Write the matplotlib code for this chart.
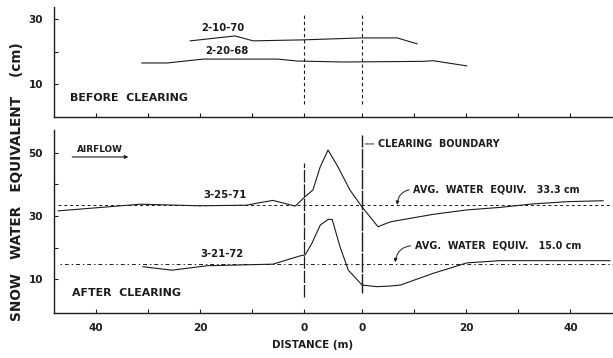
import matplotlib
matplotlib.use("Agg")
import matplotlib.pyplot as plt

# ---- data (distance in m; left clearing boundary at 0, clearing width CLEAR_W) ----
CLEAR_W = 11.2

x_701 = [-21.9, -13.3, -9.8, -0.2, 11.0, 17.9, 21.7]
y_701 = [23.4, 24.9, 23.4, 23.7, 24.3, 24.3, 22.5]

x_682 = [-31.2, -26.3, -19.4, -5.2, -1.3, 7.5, 22.9, 24.8, 31.3]
y_682 = [16.6, 16.6, 17.8, 17.8, 17.2, 16.9, 17.1, 17.3, 15.7]

x_713 = [-47.3, -31.5, -20.0, -11.0, -8.5, -6.0, -1.7, 0.2, 1.7, 3.1, 4.6,
         6.5, 8.8, 11.15, 14.2, 16.5, 18.5, 24.8, 31.3, 37.7, 44.0, 50.6, 57.5]
y_713 = [31.6, 33.7, 33.2, 33.4, 34.2, 34.9, 33.1, 36.1, 38.2, 45.5, 50.8,
         45.5, 38.2, 32.8, 26.6, 28.1, 28.7, 30.5, 31.9, 32.7, 33.8, 34.5, 34.8]

x_723 = [-31.0, -25.4, -18.7, -6.0, -0.8, 0.2, 1.5, 3.1, 4.6, 5.4, 6.9,
         8.5, 11.15, 14.0, 16.5, 18.5, 24.8, 31.3, 37.7, 58.8]
y_723 = [14.0, 12.9, 14.3, 14.8, 17.4, 17.7, 21.4, 27.1, 28.9, 28.9, 20.3,
         12.9, 8.2, 7.7, 7.9, 8.2, 11.9, 15.2, 15.9, 15.9]

avg_713 = 33.3
avg_723 = 15.0

tick_pos = [-40, -30, -20, -10, 0, CLEAR_W, CLEAR_W + 10, CLEAR_W + 20,
            CLEAR_W + 30, CLEAR_W + 40]
tick_lab = ["40", "", "20", "", "0", "0", "", "20", "", "40"]

top_yticks = [10, 20, 30]
top_ylabels = ["10", "", "30"]
bot_yticks = [10, 20, 30, 40, 50]
bot_ylabels = ["10", "", "30", "", "50"]

# ---- style ----
INK = "#1c1c1c"
FONT = dict(family="DejaVu Sans", weight="bold", color=INK)
plt.rcParams["font.family"] = "DejaVu Sans"

fig = plt.figure(figsize=(6.13, 3.58), dpi=100)
ax1 = fig.add_axes([54 / 613, 1 - 117 / 358, 1 - 54 / 613, 110 / 358])
ax2 = fig.add_axes([54 / 613, 1 - 313 / 358, 1 - 54 / 613, 183 / 358])

XL = (-48.1, CLEAR_W + 48.2)
for ax in (ax1, ax2):
    ax.set_xlim(*XL)
    for s in ("top", "right"):
        ax.spines[s].set_visible(False)
    for s in ("left", "bottom"):
        ax.spines[s].set_color(INK)
        ax.spines[s].set_linewidth(1.0)
    ax.set_xticks(tick_pos)
    ax.tick_params(direction="in", length=3, width=0.8, color=INK,
                   labelsize=7.5, labelcolor=INK)
    ax.tick_params(axis="y", pad=8)
    ax.tick_params(axis="x", pad=7)

ax1.set_ylim(0, 33.8)
ax1.set_yticks(top_yticks)
ax1.set_yticklabels(top_ylabels, fontweight="bold")
ax1.set_xticklabels([])

ax2.set_ylim(-0.6, 57.1)
ax2.set_yticks(bot_yticks)
ax2.set_yticklabels(bot_ylabels, fontweight="bold")
ax2.set_xticklabels(tick_lab, fontweight="bold")

lw = 0.8
# top panel
ax1.plot(x_701, y_701, color=INK, lw=lw)
ax1.plot(x_682, y_682, color=INK, lw=lw)
for xb in (0, CLEAR_W):
    ax1.plot([xb, xb], [4.0, 31.2], color=INK, lw=0.8, linestyle=(0, (3, 2.5)))

ax1.text(-15.6, 27.2, "2-10-70", ha="center", va="center", fontsize=7.3, **FONT)
ax1.text(-14.8, 20.2, "2-20-68", ha="center", va="center", fontsize=7.3, **FONT)
ax1.text(-45.0, 5.8, "BEFORE  CLEARING", ha="left", va="center", fontsize=7.9, **FONT)

# bottom panel
ax2.plot(x_713, y_713, color=INK, lw=lw)
ax2.plot(x_723, y_723, color=INK, lw=lw)
ax2.axhline(avg_713, xmin=(-47.3 - XL[0]) / (XL[1] - XL[0]), color=INK, lw=0.7,
            linestyle=(0, (3, 3)))
ax2.axhline(avg_723, xmin=(-47.0 - XL[0]) / (XL[1] - XL[0]), color=INK, lw=0.7,
            linestyle=(0, (1.5, 3, 4, 3)))
ax2.plot([0, 0], [4.4, 46.7], color=INK, lw=0.9, linestyle=(0, (10, 1.5)))
ax2.plot([CLEAR_W, CLEAR_W], [5.7, 55.5], color=INK, lw=1.0, linestyle=(0, (14, 1)))

ax2.text(-15.2, 36.6, "3-25-71", ha="center", va="center", fontsize=7.3, **FONT)
ax2.text(-15.8, 17.9, "3-21-72", ha="center", va="center", fontsize=7.3, **FONT)
ax2.text(-44.6, 5.7, "AFTER  CLEARING", ha="left", va="center", fontsize=7.9, **FONT)

ax2.text(-43.7, 50.8, "AIRFLOW", ha="left", va="center", fontsize=6.4, **FONT)
ax2.annotate("", xy=(-33.8, 48.6), xytext=(-44.6, 48.6),
             arrowprops=dict(arrowstyle="-|>", color=INK, lw=0.8,
                             mutation_scale=5, shrinkA=0, shrinkB=0))

ax2.annotate("CLEARING  BOUNDARY", xy=(CLEAR_W + 0.5, 52.7), xytext=(14.2, 52.7),
             ha="left", va="center", fontsize=6.9, **FONT,
             arrowprops=dict(arrowstyle="-", color=INK, lw=0.7, linestyle=(0, (2, 1)),
                             shrinkA=1, shrinkB=0))

ax2.annotate("AVG.  WATER  EQUIV.   33.3 cm", xy=(17.9, avg_713 + 0.2),
             xytext=(21.0, 38.4), ha="left", va="center", fontsize=6.9, **FONT,
             arrowprops=dict(arrowstyle="-|>", color=INK, lw=0.7, mutation_scale=5,
                             connectionstyle="arc3,rad=0.45", relpos=(0, 0.5),
                             shrinkA=1, shrinkB=0))
ax2.annotate("AVG.  WATER  EQUIV.   15.0 cm", xy=(17.5, avg_723 + 0.4),
             xytext=(21.3, 20.6), ha="left", va="center", fontsize=6.9, **FONT,
             arrowprops=dict(arrowstyle="-|>", color=INK, lw=0.7, mutation_scale=5,
                             connectionstyle="arc3,rad=0.45", relpos=(0, 0.5),
                             shrinkA=1, shrinkB=0))

fig.text(17 / 613, 1 - 182 / 358, "SNOW   WATER   EQUIVALENT    (cm)", rotation=90,
         ha="center", va="center", fontsize=9.8, **FONT)
fig.text(313 / 613, 1 - 345 / 358, "DISTANCE (m)", ha="center", va="center",
         fontsize=7.4, **FONT)

fig.savefig("out.png", dpi=100, facecolor="white")
